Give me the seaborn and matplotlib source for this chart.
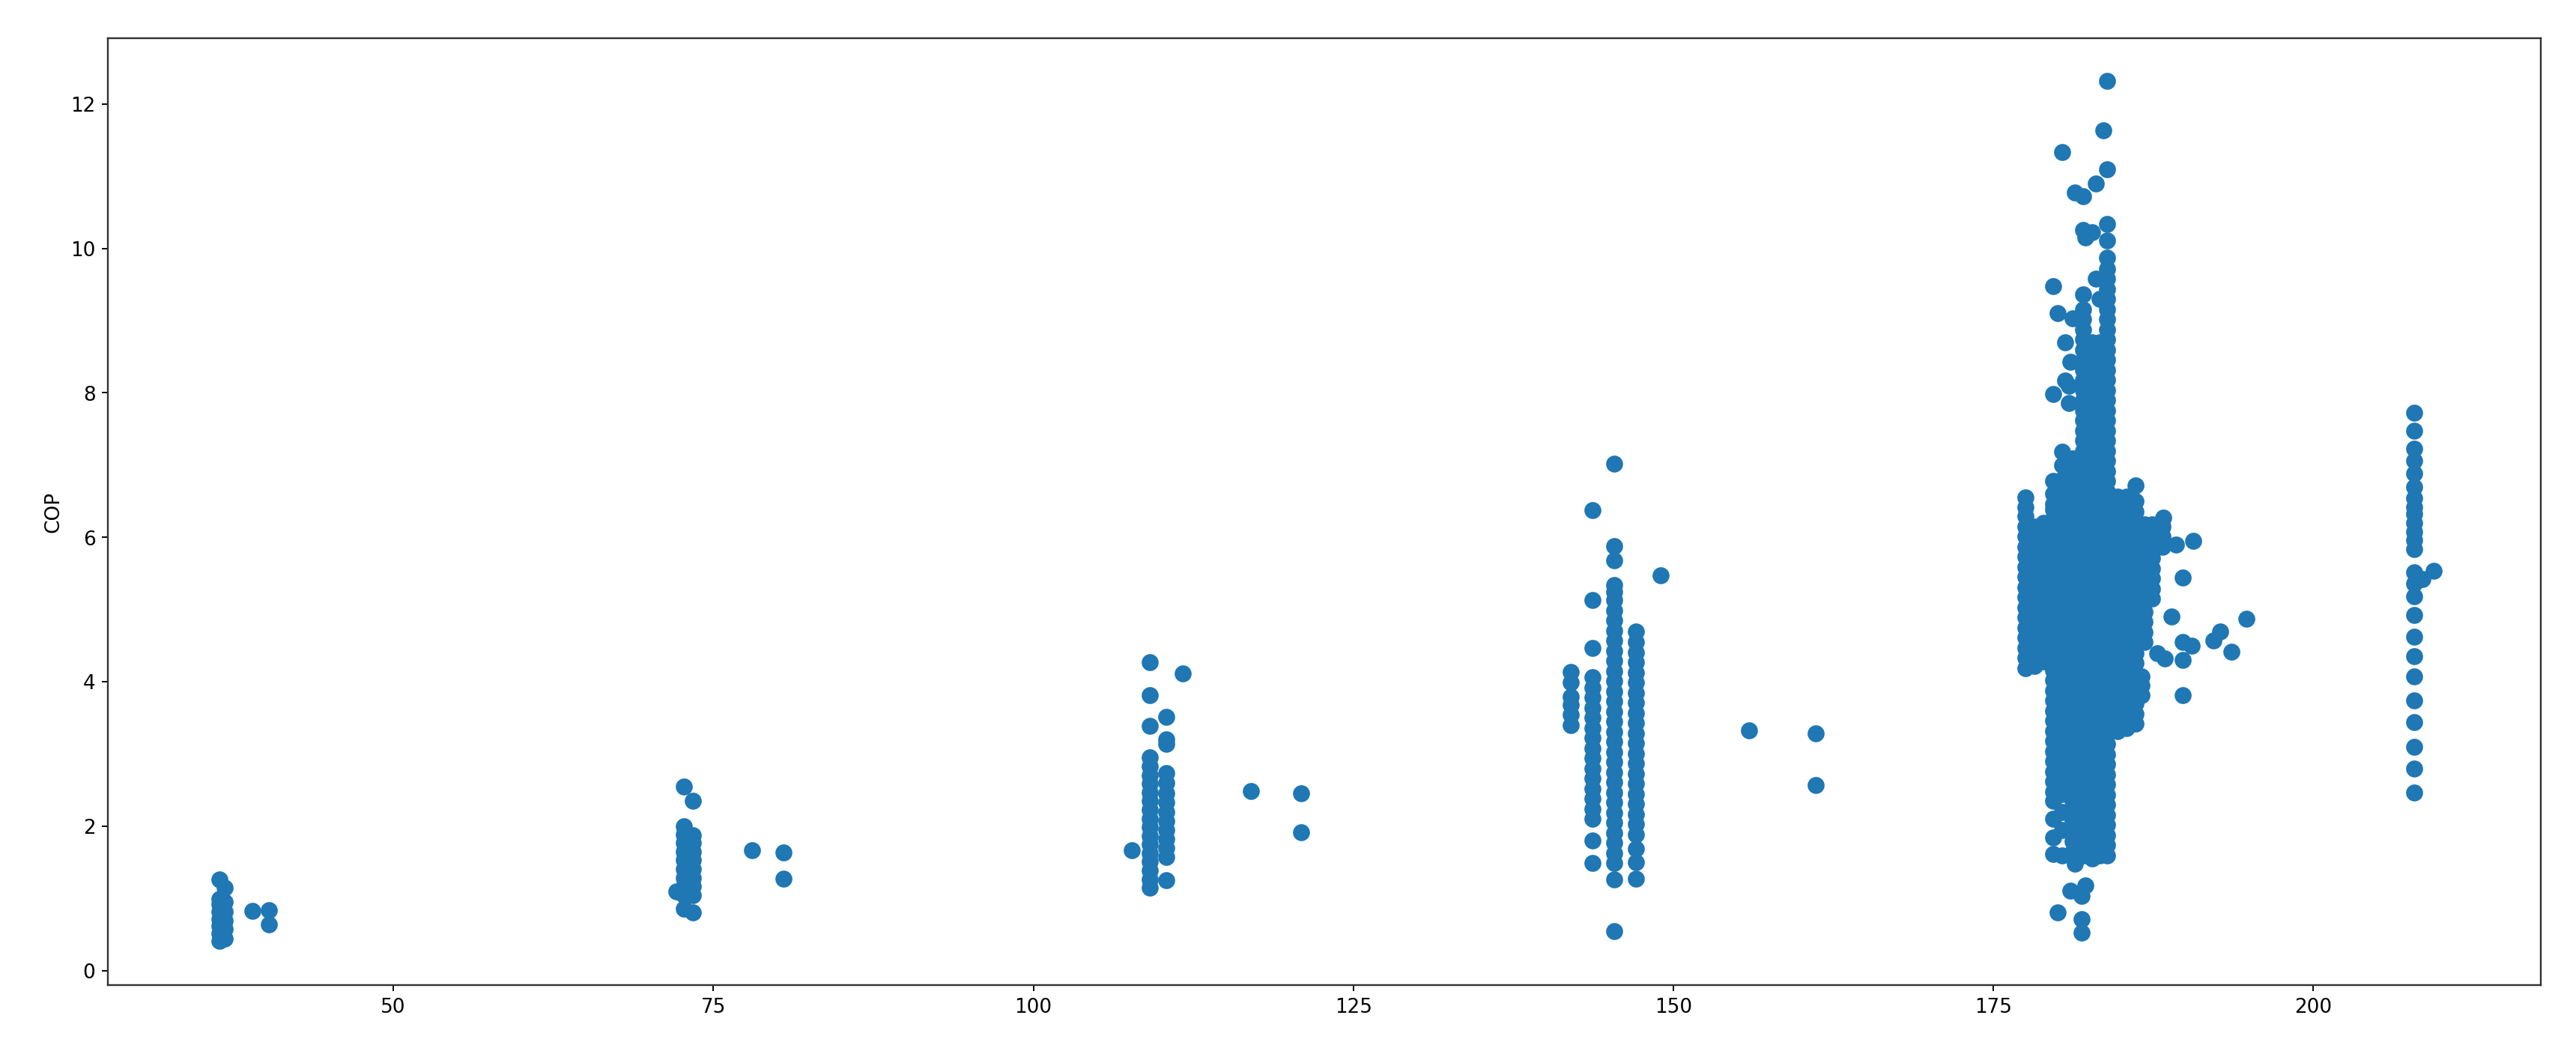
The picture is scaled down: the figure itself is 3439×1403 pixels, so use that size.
"""
COP scatter: readings grouped in columns along the x axis
"""
import pandas as pd
import matplotlib.pyplot as plt
import seaborn as sns

# each cluster: x position of a column of readings, and the COP values read at that x
c37_x = [36.4, 36.8, 39.0, 40.3]
c37_y = [
    [0.42, 0.52, 0.62, 0.72, 0.82, 0.92, 1.0, 1.27],
    [0.45, 0.58, 0.7, 0.82, 0.95, 1.15],
    [0.83],
    [0.84, 0.64],
]

c73_x = [72.1, 72.7, 73.4, 78.0, 80.5]
c73_y = [
    [1.1],
    [0.86, 1.05, 1.17, 1.29, 1.41, 1.53, 1.65, 1.77, 1.89, 2.0, 2.55],
    [0.81, 1.05, 1.17, 1.29, 1.41, 1.53, 1.65, 1.77, 1.88, 2.35],
    [1.67],
    [1.64, 1.28],
]

c110_x = [107.7, 109.1, 110.4, 111.7, 117.0, 120.9]
c110_y = [
    [1.67],
    [1.15, 1.27, 1.39, 1.51, 1.63, 1.75, 1.87, 1.99, 2.11, 2.23, 2.35, 2.47,
     2.59, 2.71, 2.83, 2.95, 3.39, 3.82, 4.27],
    [1.25, 1.58, 1.7, 1.82, 1.95, 2.07, 2.2, 2.33, 2.46, 2.6, 2.74, 3.14, 3.2, 3.52],
    [4.12],
    [2.49],
    [2.46, 1.92],
]

c145_x = [142.0, 143.7, 145.4, 147.1, 149.0, 155.9, 161.1]
c145_y = [
    [3.4, 3.55, 3.68, 3.8, 3.99, 4.14],
    [1.49, 1.8, 2.1, 2.24, 2.38, 2.52, 2.66, 2.8, 2.94, 3.08, 3.22, 3.36, 3.5,
     3.64, 3.78, 3.92, 4.06, 4.47, 5.13, 6.38],
    [0.55, 1.27, 1.49, 1.63, 1.77, 1.91, 2.05, 2.19, 2.33, 2.47, 2.61, 2.75,
     2.89, 3.03, 3.17, 3.31, 3.45, 3.59, 3.73, 3.87, 4.01, 4.15, 4.29, 4.43,
     4.57, 4.71, 4.85, 4.99, 5.13, 5.25, 5.34, 5.68, 5.88, 7.02],
    [1.28, 1.5, 1.69, 1.89, 2.03, 2.17, 2.31, 2.45, 2.59, 2.73, 2.87, 3.01,
     3.15, 3.29, 3.43, 3.57, 3.71, 3.85, 3.99, 4.13, 4.27, 4.41, 4.55, 4.7],
    [5.47],
    [3.33],
    [3.29, 2.57],
]

c182_x = [177.5, 178.2, 178.9, 179.7, 180.0, 180.4, 180.6, 180.9, 181.0, 181.2,
          181.4, 181.9, 182.0, 182.2, 182.7, 183.0, 183.3, 183.6, 183.9, 184.7,
          185.4, 186.1, 186.6, 186.8, 187.4, 188.2]
c182_y = [
    # 177.5
    [4.19, 4.33, 4.47, 4.61, 4.75, 4.89, 5.03, 5.17, 5.31, 5.45, 5.59, 5.73,
     5.87, 6.01, 6.15, 6.29, 6.42, 6.55],
    # 178.2
    [4.22, 4.36, 4.5, 4.64, 4.78, 4.92, 5.06, 5.2, 5.34, 5.48, 5.62, 5.76,
     5.9, 6.04, 6.15],
    # 178.9
    [4.28, 4.42, 4.56, 4.7, 4.84, 4.98, 5.12, 5.26, 5.4, 5.54, 5.68, 5.82,
     5.96, 6.1, 6.2],
    # 179.7
    [1.62, 1.85, 2.1, 2.35, 2.48, 2.62, 2.76, 2.9, 3.04, 3.18, 3.32, 3.46,
     3.6, 3.74, 3.88, 4.02, 4.16, 4.3, 4.44, 4.58, 4.72, 4.86, 5.0, 5.14,
     5.28, 5.42, 5.56, 5.7, 5.84, 5.98, 6.12, 6.26, 6.39, 6.46, 6.6, 6.78,
     7.98, 9.48],
    # 180.0
    [0.81, 9.1],
    # 180.4
    [1.6, 1.95, 2.2, 2.45, 2.59, 2.73, 2.87, 3.01, 3.15, 3.29, 3.43, 3.57,
     3.71, 3.85, 3.99, 4.13, 4.27, 4.41, 4.55, 4.69, 4.83, 4.97, 5.11, 5.25,
     5.39, 5.53, 5.67, 5.81, 5.95, 6.09, 6.23, 6.37, 6.51, 6.65, 6.8, 7.0,
     7.19, 11.33],
    # 180.6
    [8.17, 8.7],
    # 180.9
    [7.86, 8.1],
    # 181.0
    [1.11, 8.43],
    # 181.2
    [1.65, 1.79, 1.93, 2.07, 2.21, 2.35, 2.49, 2.63, 2.77, 2.91, 3.05, 3.19,
     3.33, 3.47, 3.61, 3.75, 3.89, 4.03, 4.17, 4.31, 4.45, 4.59, 4.73, 4.87,
     5.01, 5.15, 5.29, 5.43, 5.57, 5.71, 5.85, 5.99, 6.13, 6.27, 6.41, 6.55,
     6.69, 6.83, 6.97, 7.09, 9.03],
    # 181.4
    [1.48, 10.77],
    # 181.9
    [0.53, 0.72, 1.04],
    # 182.0
    [1.6, 1.74, 1.88, 2.02, 2.16, 2.3, 2.44, 2.58, 2.72, 2.86, 3.0, 3.14,
     3.28, 3.42, 3.56, 3.7, 3.84, 3.98, 4.12, 4.26, 4.4, 4.54, 4.68, 4.82,
     4.96, 5.1, 5.24, 5.38, 5.52, 5.66, 5.8, 5.94, 6.08, 6.22, 6.36, 6.5,
     6.64, 6.78, 6.92, 7.06, 7.2, 7.34, 7.48, 7.62, 7.76, 7.9, 8.04, 8.18,
     8.32, 8.46, 8.6, 8.74, 8.88, 9.02, 9.16, 9.36, 10.25, 10.72],
    # 182.2
    [1.18, 10.15],
    # 182.7
    [1.56, 1.7, 1.84, 1.98, 2.12, 2.26, 2.4, 2.54, 2.68, 2.82, 2.96, 3.1,
     3.24, 3.38, 3.52, 3.66, 3.8, 3.94, 4.08, 4.22, 4.36, 4.5, 4.64, 4.78,
     4.92, 5.06, 5.2, 5.34, 5.48, 5.62, 5.76, 5.9, 6.04, 6.18, 6.32, 6.46,
     6.6, 6.74, 6.88, 7.02, 7.16, 7.3, 7.44, 7.58, 7.72, 7.86, 8.0, 8.14,
     8.28, 8.42, 8.56, 8.7, 10.22],
    # 183.0
    [9.58, 10.9],
    # 183.3
    [1.6, 1.74, 1.88, 2.02, 2.16, 2.3, 2.44, 2.58, 2.72, 2.86, 3.0, 3.14,
     3.28, 3.42, 3.56, 3.7, 3.84, 3.98, 4.12, 4.26, 4.4, 4.54, 4.68, 4.82,
     4.96, 5.1, 5.24, 5.38, 5.52, 5.66, 5.8, 5.94, 6.08, 6.22, 6.36, 6.5,
     6.64, 6.78, 6.92, 7.06, 7.2, 7.34, 7.48, 7.62, 7.76, 7.9, 8.04, 8.18,
     8.32, 8.46, 8.6, 8.7, 9.3],
    # 183.6
    [11.63],
    # 183.9
    [1.6, 1.74, 1.88, 2.02, 2.16, 2.3, 2.44, 2.58, 2.72, 2.86, 3.0, 3.14,
     3.28, 3.42, 3.56, 3.7, 3.84, 3.98, 4.12, 4.26, 4.4, 4.54, 4.68, 4.82,
     4.96, 5.1, 5.24, 5.38, 5.52, 5.66, 5.8, 5.94, 6.08, 6.22, 6.36, 6.5,
     6.64, 6.78, 6.92, 7.06, 7.2, 7.34, 7.48, 7.62, 7.76, 7.9, 8.04, 8.18,
     8.32, 8.46, 8.6, 8.74, 8.88, 9.02, 9.16, 9.3, 9.44, 9.58, 9.72, 9.87,
     10.11, 10.34, 11.09, 12.32],
    # 184.7
    [3.32, 3.46, 3.6, 3.74, 3.88, 4.02, 4.16, 4.3, 4.44, 4.58, 4.72, 4.86,
     5.0, 5.14, 5.28, 5.42, 5.56, 5.7, 5.84, 5.98, 6.12, 6.26, 6.4, 6.56],
    # 185.4
    [3.36, 3.5, 3.64, 3.78, 3.92, 4.06, 4.2, 4.34, 4.48, 4.62, 4.76, 4.9,
     5.04, 5.18, 5.32, 5.46, 5.6, 5.74, 5.88, 6.02, 6.16, 6.3, 6.44, 6.56],
    # 186.1
    [3.42, 3.56, 3.7, 3.84, 3.98, 4.12, 4.26, 4.4, 4.54, 4.68, 4.82, 4.96,
     5.1, 5.24, 5.38, 5.52, 5.66, 5.8, 5.94, 6.08, 6.22, 6.36, 6.5, 6.72],
    # 186.6
    [3.82, 3.95, 4.08],
    # 186.8
    [4.55, 4.69, 4.83, 4.97, 5.11, 5.25, 5.39, 5.53, 5.67, 5.81, 5.95, 6.09, 6.18],
    # 187.4
    [5.15, 5.29, 5.43, 5.57, 5.71, 5.85, 5.99, 6.13, 6.18],
    # 188.2
    [5.87, 6.01, 6.15],
]

# scattered readings right of the main group
c190_x = [187.8, 188.3, 188.4, 188.9, 189.3, 189.8, 190.5, 190.6, 192.2, 192.7, 193.6, 194.8]
c190_y = [
    [4.4],
    [6.27],
    [4.32],
    [4.9],
    [5.9],
    [5.44, 4.55, 4.3, 3.82],
    [4.5],
    [5.95],
    [4.57],
    [4.7],
    [4.42],
    [4.87],
]

c208_x = [207.9, 208.5, 209.4]
c208_y = [
    [2.47, 2.8, 3.1, 3.44, 3.74, 4.07, 4.35, 4.62, 4.92, 5.18, 5.36, 5.52,
     5.84, 5.96, 6.08, 6.2, 6.32, 6.42, 6.54, 6.7, 6.88, 7.06, 7.23, 7.48, 7.72],
    [5.42],
    [5.54],
]

clusters = [(c37_x, c37_y), (c73_x, c73_y), (c110_x, c110_y), (c145_x, c145_y),
            (c182_x, c182_y), (c190_x, c190_y), (c208_x, c208_y)]

rows = []
for xs, ys in clusters:
    for x, col in zip(xs, ys):
        for y in col:
            rows.append((x, y))
df = pd.DataFrame(rows, columns=['x', 'COP'])

DPI = 172
fig = plt.figure(figsize=(3439.2 / DPI, 1403.2 / DPI), dpi=DPI)
ax = fig.add_axes([0.0419, 0.0627, 0.9445, 0.9009])

sns.scatterplot(data=df, x='x', y='COP', color='#1f77b4', s=90,
                linewidth=0, alpha=1, ax=ax)

ax.set_xlim(27.7, 217.8)
ax.set_ylim(-0.197, 12.91)
ax.set_xlabel('')
ax.set_ylabel('COP', fontsize=11)
ax.tick_params(labelsize=11)
for side in ax.spines.values():
    side.set_linewidth(1.0)
    side.set_edgecolor('#333333')

fig.savefig('out.png', dpi=DPI)
plt.close(fig)
